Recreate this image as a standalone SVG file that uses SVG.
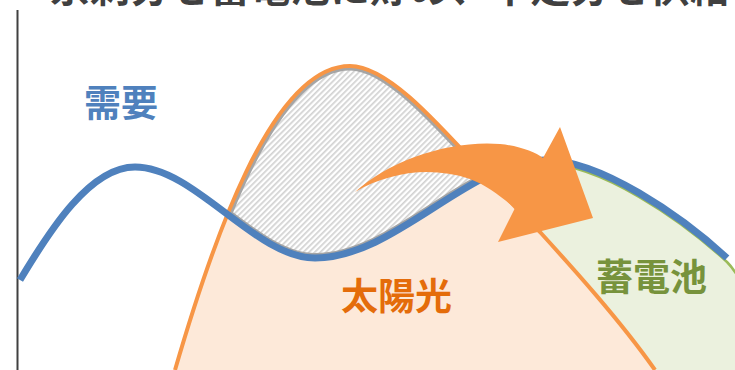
<svg xmlns="http://www.w3.org/2000/svg" width="735" height="370" viewBox="0 0 735 370">
<style>
.lbl{font-family:"Noto Sans CJK JP","Noto Sans CJK SC",sans-serif;font-weight:bold;}
</style>
<defs>
<pattern id="hatch" width="4" height="4" patternUnits="userSpaceOnUse" patternTransform="rotate(45)">
<rect width="4" height="4" fill="#ffffff"/>
<rect width="1.7" height="4" fill="#d2d2d2"/>
</pattern>
<path id="solarLine" d="M175,370 C210,250 270,66 350,66 C400,66 470,165 540,232 C570,265 620,320 655,370"/>
<path id="demandLine" d="M20,280 C50,230 90,167 135,167 C195,167 255,258 315,258 C395,258 470,160 545,160 C600,160 680,215 727,258"/>
<clipPath id="solarClip"><path d="M175,370 C210,250 270,66 350,66 C400,66 470,165 540,232 C570,265 620,320 655,370 Z"/></clipPath>
<clipPath id="aboveBlue"><path d="M20,280 C50,230 90,167 135,167 C195,167 255,258 315,258 C395,258 470,160 545,160 C600,160 680,215 727,258 L735,258 L735,0 L0,0 L0,280 Z"/></clipPath>
</defs>
<text class="lbl" x="50" y="2" font-size="40" fill="#404040">余剰分を蓄電池に貯め、不足分を供給</text>
<line x1="17.5" y1="10" x2="17.5" y2="370" stroke="#404040" stroke-width="2"/>
<g id="battery">
<path d="M315,262 C395,262 470,164 545,164 C600,164 680,219 727,262 C737,272 743,285 748,300 L748,372 L315,372 Z" fill="#ebf1de"/>
<path d="M545,164 C600,164 680,219 727,262 C737,272 743,285 748,300" fill="none" stroke="#9bbb59" stroke-width="2.5"/>
</g>
<g id="solar">
<use href="#solarLine" fill="#fde9d9"/>
</g>
<g id="surplus" clip-path="url(#aboveBlue)">
<g clip-path="url(#solarClip)">
<rect x="150" y="50" width="400" height="230" fill="url(#hatch)"/>
<use href="#solarLine" fill="none" stroke="#a5a5a5" stroke-width="9"/>
<use href="#demandLine" fill="none" stroke="#a5a5a5" stroke-width="10"/>
</g>
</g>
<g id="connectors">
<use href="#solarLine" fill="none" stroke="#f79646" stroke-width="4"/>
<use href="#demandLine" fill="none" stroke="#4f81bd" stroke-width="7"/>
<path id="arrow" d="M355,192 C390,160 450,140 500,144 C520,146 535,152 543,158 L560,127 L593,218 L498,242 L515,208 C500,196 488,186 470,179 C430,166 390,172 355,192 Z" fill="#f79646"/>
</g>
<text class="lbl" x="84" y="117" font-size="37" fill="#4f81bd">需要</text>
<text class="lbl" x="341" y="310" font-size="37" fill="#e46c0a">太陽光</text>
<text class="lbl" x="596" y="291" font-size="37" fill="#77933c">蓄電池</text>
</svg>
